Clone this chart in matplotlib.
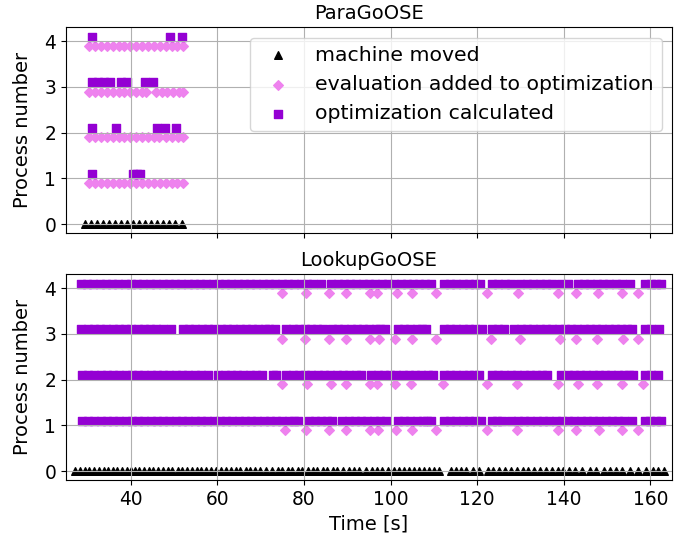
import matplotlib
matplotlib.use("Agg")
import matplotlib.pyplot as plt

plt.rcParams['font.size'] = 13.4

# ---- ParaGoOSE (top) ----
para_moved = [29.4, 30.8, 32.2, 33.6, 35.0, 36.4, 37.8, 39.2, 40.5, 41.9, 43.3,
              44.7, 46.1, 47.5, 48.9, 50.3, 51.8]
para_added = {
    4: [30.4, 31.8, 33.1, 34.5, 35.8, 37.2, 38.5, 39.9, 41.2, 42.6, 44.0, 45.3,
        46.7, 48.0, 49.4, 50.7, 52.1],
    3: [30.4, 31.8, 33.1, 34.5, 35.8, 37.2, 38.5, 39.9, 41.2, 42.6, 43.6, 45.7,
        47.1, 48.4, 49.8, 51.1, 52.1],
    2: [30.4, 31.8, 33.1, 34.5, 35.8, 37.2, 38.5, 39.9, 41.2, 42.6, 44.0, 45.3,
        46.4, 48.2, 49.5, 50.8, 52.1],
    1: [30.4, 31.8, 33.1, 34.5, 35.8, 37.2, 38.5, 39.9, 41.2, 42.6, 44.0, 45.3,
        46.7, 48.0, 49.4, 50.7, 52.1],
}
para_calc = {
    4: [30.9, 49.0, 51.8],
    3: [30.9, 32.3, 33.8, 35.2, 37.8, 39.1, 43.3, 45.0],
    2: [30.9, 36.5, 46.1, 47.8, 50.4],
    1: [30.9, 40.5, 41.3, 42.2],
}

# ---- LookupGoOSE (bottom) ----
lookup_moved = [27.1, 28.2, 29.3, 30.4, 31.5, 32.6, 33.7, 34.8, 35.8, 36.9, 38.0,
                39.1, 40.0, 40.9, 41.9, 43.0, 44.1, 45.2, 46.2, 47.3, 48.5, 49.6,
                50.8, 51.9, 52.9, 54.1, 55.2, 56.3, 57.4, 58.5, 59.6, 60.8, 61.9,
                63.1, 64.2, 65.3, 66.5, 67.5, 68.7, 69.9, 71.2, 72.7, 73.9, 75.0,
                76.2, 77.3, 78.5, 79.6, 80.8, 82.0, 83.1, 84.3, 85.4, 86.6, 87.7,
                89.0, 90.4, 91.5, 92.7, 94.2, 95.8, 96.9, 98.1, 99.3, 100.8, 102.0,
                103.1, 104.3, 105.4, 106.6, 107.7, 108.9, 110.0, 111.2, 113.9,
                115.0, 116.2, 117.5, 119.0, 120.4, 122.4, 123.7, 125.1, 126.4,
                127.8, 129.1, 130.5, 131.8, 133.2, 134.5, 135.9, 137.2, 138.6,
                139.9, 141.2, 142.7, 144.1, 146.0, 147.5, 149.3, 150.7, 152.0,
                153.5, 155.4, 157.2, 159.1, 160.5, 161.8, 163.1]
lookup_added = {
    4: [74.8, 80.4, 85.8, 89.8, 95.2, 96.8, 101.5, 105.0, 110.4, 122.3, 129.4,
        138.7, 142.9, 147.9, 153.4, 157.1],
    3: [74.9, 80.3, 85.8, 89.8, 95.3, 97.2, 101.0, 105.0, 110.4, 123.3, 129.8,
        139.1, 142.9, 147.7, 153.7, 157.1],
    2: [74.9, 80.6, 86.3, 89.8, 95.3, 96.9, 101.0, 104.8, 112.1, 122.3, 129.2,
        138.7, 143.3, 147.7, 153.4, 158.4],
    1: [75.7, 80.4, 85.8, 89.8, 95.3, 97.0, 101.2, 105.0, 110.4, 122.3, 129.2,
        138.7, 142.9, 148.1, 153.5, 157.1],
}
lookup_calc = {
    4: [28.4, 29.9, 31.3, 32.8, 34.2, 35.7, 37.1, 38.6, 40.0, 41.5, 42.9, 44.4,
        45.8, 47.3, 48.7, 50.2, 51.6, 53.1, 54.5, 56.0, 57.4, 58.9, 60.3, 61.8,
        63.2, 64.7, 66.1, 67.6, 69.0, 70.5, 71.9, 73.4, 74.8, 76.3, 77.7, 79.2,
        80.6, 82.1, 83.9,
        86.3, 87.8, 89.2, 90.7, 92.1, 93.6, 95.0, 96.5, 97.9, 99.4, 100.8, 102.3,
        103.7, 105.2, 106.6, 108.0, 109.4,
        112.3, 113.8, 115.2, 116.7, 118.1, 119.4, 120.6,
        123.4, 124.9, 126.4, 127.8,
        130.0, 131.5, 132.9, 134.4, 135.8, 137.2,
        139.4, 141.0,
        143.2, 144.7, 146.1, 147.6, 149.0, 150.5, 152.0, 153.5, 155.4,
        158.7, 160.1, 161.4, 162.4],
    3: [28.5, 30.0, 31.4, 32.9, 34.3, 35.8, 37.2, 38.7, 40.1, 41.6, 43.0, 44.5,
        45.9, 47.4, 49.2,
        52.0, 53.5, 54.9, 56.4, 57.8, 59.3, 60.7, 62.2, 63.6, 65.1, 66.5, 68.0,
        69.4, 70.9, 72.0, 73.2,
        75.9, 77.4, 78.8, 80.3, 81.7, 83.0, 84.3,
        86.4, 87.9, 89.3, 90.8, 92.2, 93.7, 95.1, 96.6, 97.6, 98.7,
        101.6, 103.1, 104.5, 106.0, 107.2, 108.2,
        112.3, 113.8, 115.2, 116.7, 118.1, 119.6, 121.2,
        123.4, 124.8, 126.2,
        128.6, 130.1, 131.5, 133.0, 134.4, 135.9, 137.3, 138.8, 140.2, 141.7,
        143.1, 144.6, 146.0, 147.5, 148.9, 150.4, 151.8, 153.3, 154.6, 155.8,
        158.7, 160.2, 162.0],
    2: [28.6, 30.1, 31.5, 33.0, 34.4, 35.9, 37.3, 38.8, 40.2, 41.7, 43.1, 44.6,
        46.0, 47.5, 48.9, 50.4, 51.8, 53.3, 54.7, 56.2, 57.8,
        60.2, 61.7, 63.1, 64.6, 66.0, 67.5, 68.9, 70.4,
        72.9, 73.6,
        75.9, 77.4, 78.8, 80.3, 81.7, 83.2, 84.6, 86.1, 87.5, 89.0, 90.4, 91.9,
        93.1,
        95.5, 97.0, 98.4, 99.9, 101.3, 102.8, 104.2, 105.7, 107.1, 108.6, 109.9,
        112.3, 113.8, 115.2, 116.7, 118.1, 119.3, 120.4,
        123.4, 124.9, 126.3, 127.8, 129.2, 130.7, 132.1, 133.6, 135.0, 136.2,
        139.4, 140.9, 142.3, 143.8, 145.2, 146.7, 148.1, 149.6, 151.0, 152.5,
        153.9, 155.0, 156.1,
        158.7, 160.2, 161.7],
    1: [28.6, 30.1, 31.5, 33.0, 34.4, 35.9, 37.3, 38.8, 40.2, 41.7, 43.1, 44.6,
        46.0, 47.5, 48.9, 50.4, 51.8, 53.3, 54.7, 56.2, 57.6, 59.1, 60.5, 62.0,
        63.4, 64.9, 66.3, 67.8, 69.2, 70.7, 72.1, 73.6, 75.0, 76.5, 77.6, 78.6,
        81.1, 82.6, 84.0, 85.3, 86.4,
        88.8, 90.3, 91.7, 93.2, 94.6, 96.1, 97.5, 98.9,
        101.6, 103.1, 104.5, 106.0, 107.4, 108.4, 109.3,
        112.3, 113.8, 115.2, 116.7, 118.1, 119.6, 120.8,
        123.4, 124.6, 125.7,
        127.9, 129.4, 130.8, 132.3, 133.7, 135.2, 136.6, 138.1, 139.5, 141.0,
        142.4, 143.9, 145.3, 146.8, 148.2, 149.7, 151.1, 152.6, 154.0, 155.7,
        158.7, 160.0, 161.3, 162.5],
}


def draw_panel(ax, moved, added, calc, title):
    # machine moves sit on process 0, the per-process events are offset slightly
    ax.scatter(moved, [0] * len(moved), marker='^', s=30, color='black',
               label='machine moved')
    first = True
    for proc, times in added.items():
        ax.scatter(times, [proc - 0.1] * len(times), marker='D', s=24,
                   color='violet',
                   label='evaluation added to optimization' if first else None)
        first = False
    first = True
    for proc, times in calc.items():
        ax.scatter(times, [proc + 0.1] * len(times), marker='s', s=30,
                   color='darkviolet',
                   label='optimization calculated' if first else None)
        first = False
    ax.set_title(title, fontsize=14)
    ax.set_ylabel('Process number', fontsize=14, labelpad=9)
    ax.set_yticks([0, 1, 2, 3, 4])
    ax.grid(True)


fig, (ax1, ax2) = plt.subplots(2, 1, sharex=True, figsize=(6.93, 5.42), dpi=100)
fig.subplots_adjust(left=0.0952, right=0.9697, top=0.9496, bottom=0.1135,
                    hspace=0.198)

draw_panel(ax1, para_moved, para_added, para_calc, 'ParaGoOSE')
draw_panel(ax2, lookup_moved, lookup_added, lookup_calc, 'LookupGoOSE')

ax1.legend(loc='upper right', scatterpoints=1, fontsize=14.7)
ax2.set_xlabel('Time [s]', fontsize=14)
ax2.set_xlim(25, 165)
ax2.set_xticks([40, 60, 80, 100, 120, 140, 160])

fig.savefig('out.png', dpi=100)
